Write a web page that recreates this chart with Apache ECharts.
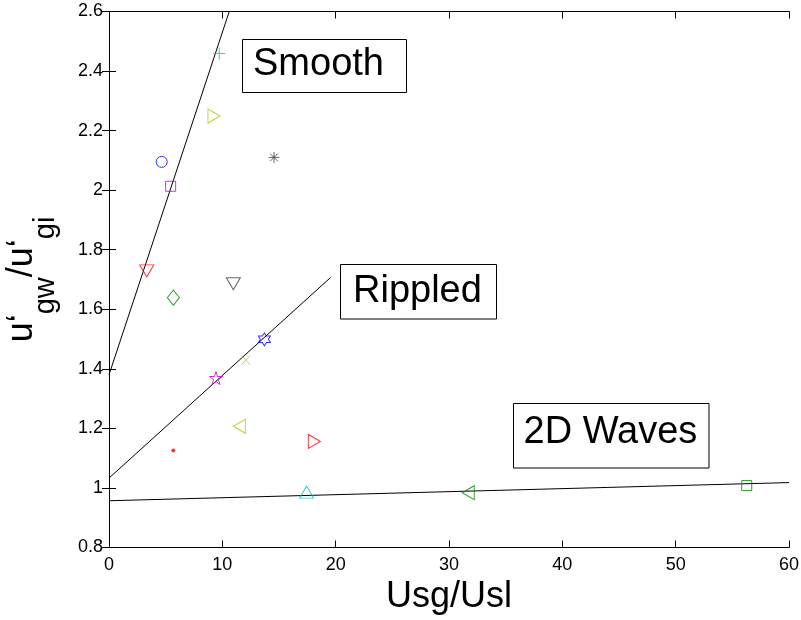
<!DOCTYPE html>
<html><head><meta charset="utf-8">
<script src="https://cdn.jsdelivr.net/npm/echarts@6/dist/echarts.min.js"></script>
<style>html,body{margin:0;padding:0;background:#fff}#c{width:801px;height:620px}</style>
</head><body><div id="c"></div>
<script>
// ---- data ----
const pointX = [9.73, 9.26, 4.65, 5.44, 14.56, 3.33, 5.68, 10.97, 13.71, 12.06, 9.44, 11.50, 18.12, 5.68, 17.44, 31.70, 56.27];
const pointY = [2.459, 2.249, 2.095, 2.013, 2.110, 1.729, 1.639, 1.686, 1.499, 1.429, 1.369, 1.207, 1.156, 1.126, 0.986, 0.984, 1.008];
const smoothFitX = [0, 10.61];
const smoothFitY = [1.380, 2.6];
const rippledFitX = [0, 19.56];
const rippledFitY = [1.033, 1.707];
const wavesFitX = [0, 60];
const wavesFitY = [0.957, 1.018];
const xTicks = [0, 10, 20, 30, 40, 50, 60];
const yTicks = [0.8, 1.0, 1.2, 1.4, 1.6, 1.8, 2.0, 2.2, 2.4, 2.6];
const regimeLabels = ['Smooth', 'Rippled', '2D Waves'];
const xAxisTitle = 'Usg/Usl';

// ---- styles (not data) ----
const P_PLUS = 'path://M5,0L5,10M0,5L10,5';
const P_X = 'path://M0,0L10,10M0,10L10,0';
const P_AST = 'path://M5,0L5,10M0,5L10,5M1.5,1.5L8.5,8.5M1.5,8.5L8.5,1.5';
const P_HEX = 'path://M10,0L12.89,5L18.66,5L15.77,10L18.66,15L12.89,15L10,20L7.11,15L1.34,15L4.23,10L1.34,5L7.11,5Z';
const P_PENT = 'path://M10,0L12.25,6.91L19.51,6.91L13.63,11.18L15.88,18.09L10,13.82L4.12,18.09L6.37,11.18L0.49,6.91L7.76,6.91Z';
const TRI = [14, 12];
const markerStyles = [
  {symbol: P_PLUS, color: '#00bfbf', size: 12},
  {symbol: 'triangle', color: '#bfbf00', size: TRI, rotate: -90},
  {symbol: 'circle', color: '#0000ff', size: 11},
  {symbol: 'rect', color: '#bf00bf', size: 10},
  {symbol: P_AST, color: '#404040', size: 11},
  {symbol: 'triangle', color: '#ff0000', size: TRI, rotate: 180},
  {symbol: 'diamond', color: '#008000', size: [12, 15]},
  {symbol: 'triangle', color: '#404040', size: TRI, rotate: 180},
  {symbol: P_HEX, color: '#0000ff', size: [12, 13]},
  {symbol: P_X, color: '#bfbf00', size: 9},
  {symbol: P_PENT, color: '#bf00bf', size: 13},
  {symbol: 'triangle', color: '#bfbf00', size: TRI, rotate: 90},
  {symbol: 'triangle', color: '#ff0000', size: TRI, rotate: -90},
  {symbol: 'circle', color: '#ff0000', size: 4, filled: true},
  {symbol: 'triangle', color: '#00bfbf', size: TRI},
  {symbol: 'triangle', color: '#008000', size: TRI, rotate: 90},
  {symbol: 'rect', color: '#008000', size: 10}
];

const FONT = 'Liberation Sans, Arial, Helvetica, sans-serif';

const scatterData = pointX.map((x, i) => {
  const s = markerStyles[i];
  return {
    value: [x, pointY[i]],
    symbol: s.symbol,
    symbolSize: s.size,
    symbolRotate: s.rotate || 0,
    itemStyle: s.filled ? {color: s.color, borderWidth: 0}
                        : {color: 'transparent', borderColor: s.color, borderWidth: 1}
  };
});

function fitSeries(xs, ys) {
  return {
    type: 'line', silent: true, symbol: 'none', animation: false, clip: true,
    data: xs.map((x, i) => [x, ys[i]]),
    lineStyle: {color: '#000', width: 1}
  };
}

const axisCommon = {
  type: 'value',
  axisLine: {show: true, lineStyle: {color: '#000', width: 1}},
  axisTick: {show: true, inside: true, length: 7, lineStyle: {color: '#000'}},
  splitLine: {show: false}
};

const chart = echarts.init(document.getElementById('c'), null, {renderer: 'canvas'});

function box(x, y, w, h, tx, ty, text) {
  return {
    type: 'group', silent: true,
    children: [
      {type: 'rect', shape: {x: x, y: y, width: w, height: h},
       style: {fill: '#fff', stroke: '#000', lineWidth: 1}},
      {type: 'text', x: tx, y: ty,
       style: {text: text, font: '38px ' + FONT, fill: '#000', align: 'left', verticalAlign: 'middle'}}
    ]
  };
}

chart.setOption({
  animation: false,
  backgroundColor: '#fff',
  grid: {left: 109, right: 12, top: 11.5, bottom: 72.5, containLabel: false, outerBoundsMode: 'none'},
  xAxis: [
    Object.assign({}, axisCommon, {
      position: 'bottom', min: xTicks[0], max: xTicks[xTicks.length - 1], interval: xTicks[1] - xTicks[0],
      axisLabel: {color: '#000', fontSize: 18, fontFamily: FONT, margin: 9},
      name: xAxisTitle, nameLocation: 'middle', nameGap: 28,
      nameTextStyle: {color: '#000', fontSize: 36, fontFamily: FONT}
    }),
    Object.assign({}, axisCommon, {
      position: 'top', min: xTicks[0], max: xTicks[xTicks.length - 1], interval: xTicks[1] - xTicks[0],
      axisLabel: {show: false}
    })
  ],
  yAxis: [
    Object.assign({}, axisCommon, {
      position: 'left', min: yTicks[0], max: yTicks[yTicks.length - 1], interval: 0.2,
      axisLabel: {color: '#000', fontSize: 18, fontFamily: FONT, margin: 6,
        formatter: v => String(Math.round(v * 10) / 10)},
      name: '{a|u‘}{s|gw}{a|/u‘}{s|gi}', nameLocation: 'middle', nameRotate: 90, nameGap: 49,
      nameTextStyle: {
        color: '#000', fontFamily: FONT,
        rich: {
          a: {fontSize: 36, fontFamily: FONT, color: '#000', lineHeight: 36, verticalAlign: 'top'},
          s: {fontSize: 29, fontFamily: FONT, color: '#000', lineHeight: 56, verticalAlign: 'bottom'}
        }
      }
    }),
    Object.assign({}, axisCommon, {
      position: 'right', min: yTicks[0], max: yTicks[yTicks.length - 1], interval: 0.2,
      axisLabel: {show: false}
    })
  ],
  series: [
    fitSeries(smoothFitX, smoothFitY),
    fitSeries(rippledFitX, rippledFitY),
    fitSeries(wavesFitX, wavesFitY),
    {type: 'scatter', silent: true, data: scatterData, z: 5}
  ],
  graphic: [
    box(242.5, 39.5, 164, 53, 253, 65, regimeLabels[0]),
    box(340.5, 264.5, 156, 54.5, 353, 292, regimeLabels[1]),
    box(513.5, 403.5, 195.5, 64.5, 523.5, 433, regimeLabels[2])
  ]
});
</script>
</body></html>
